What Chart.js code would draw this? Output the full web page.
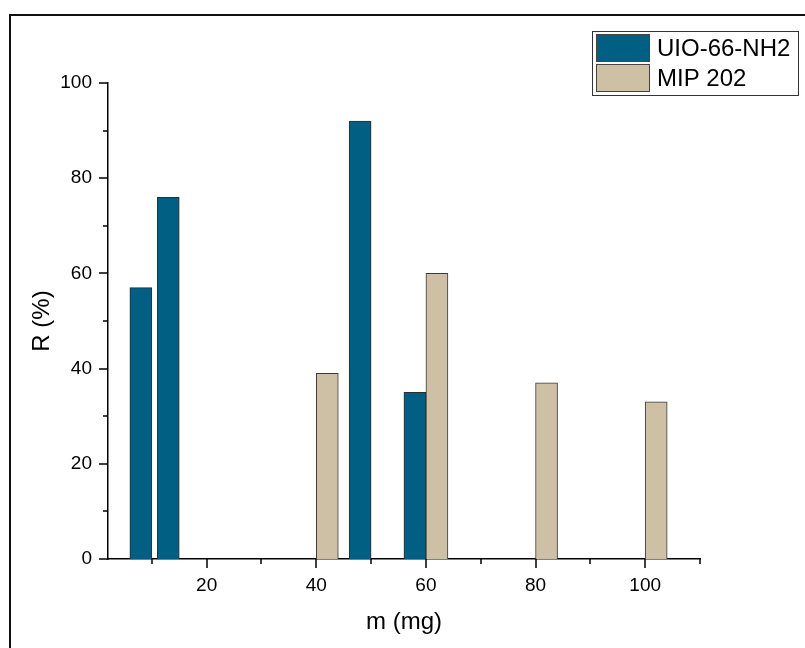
<!DOCTYPE html>
<html>
<head>
<meta charset="utf-8">
<title>R vs m</title>
<script src="https://cdn.jsdelivr.net/npm/chart.js@4.4.0/dist/chart.umd.min.js"></script>
<style>
  html, body { margin: 0; padding: 0; background: #fff; }
</style>
</head>
<body>
<canvas id="barChart" width="805" height="648"></canvas>
<script>
// sorbent mass (mg) and removal R (%) for each material
const massUio = [10, 15, 50, 60];
const recoveryUio = [57, 76, 92, 35];
const massMip = [40, 60, 80, 100];
const recoveryMip = [39, 60, 37, 33];

const xMajorTicks = [20, 40, 60, 80, 100];
const xMinorTicks = [10, 30, 50, 70, 90, 110];
const yMajorTicks = [0, 20, 40, 60, 80, 100];
const yMinorTicks = [10, 30, 50, 70, 90];

const FONT = "'Liberation Sans', Arial, sans-serif";

// page frame, minor/major tick marks, axis titles and the boxed legend
const decorations = {
  id: "decorations",
  beforeDraw(chart) {
    const ctx = chart.ctx;
    ctx.save();
    ctx.fillStyle = "#fff";
    ctx.fillRect(0, 0, chart.width, chart.height);
    ctx.strokeStyle = "#111";
    ctx.lineWidth = 2;
    ctx.beginPath();
    ctx.moveTo(10, chart.height);
    ctx.lineTo(10, 15);
    ctx.lineTo(chart.width, 15);
    ctx.stroke();
    ctx.restore();
  },
  afterDraw(chart) {
    const { ctx } = chart;
    const x = chart.scales.x;
    const y = chart.scales.y;
    ctx.save();
    ctx.strokeStyle = "#000";
    ctx.lineWidth = 1.5;
    const line = (x1, y1, x2, y2) => {
      ctx.beginPath();
      ctx.moveTo(x1, y1);
      ctx.lineTo(x2, y2);
      ctx.stroke();
    };
    xMajorTicks.forEach((v) => {
      const px = Math.round(x.getPixelForValue(v));
      line(px, y.bottom, px, y.bottom + 9);
    });
    xMinorTicks.forEach((v) => {
      const px = Math.round(x.getPixelForValue(v));
      line(px, y.bottom, px, y.bottom + 5);
    });
    yMajorTicks.forEach((v) => {
      const py = Math.round(y.getPixelForValue(v));
      line(x.left - 9, py, x.left, py);
    });
    yMinorTicks.forEach((v) => {
      const py = Math.round(y.getPixelForValue(v));
      line(x.left - 5, py, x.left, py);
    });

    // axis titles
    ctx.fillStyle = "#000";
    ctx.font = "24px " + FONT;
    ctx.textAlign = "center";
    ctx.textBaseline = "middle";
    ctx.fillText("m (mg)", (x.left + x.right) / 2, 622);
    ctx.save();
    ctx.translate(42, (y.top + y.bottom) / 2);
    ctx.rotate(-Math.PI / 2);
    ctx.fillText("R (%)", 0, 0);
    ctx.restore();

    // legend
    ctx.lineWidth = 1;
    ctx.strokeStyle = "#333";
    ctx.strokeRect(592.5, 31.5, 206, 64);
    ctx.textAlign = "left";
    chart.data.datasets.forEach((ds, i) => {
      const top = 34 + i * 30;
      ctx.fillStyle = ds.backgroundColor;
      ctx.fillRect(596, top, 54, 28);
      ctx.strokeStyle = "#444";
      ctx.strokeRect(596.5, top + 0.5, 53, 27);
      ctx.fillStyle = "#000";
      ctx.fillText(ds.label, 657, top + 15);
    });
    ctx.restore();
  },
};

const barCtx = document.getElementById("barChart").getContext("2d");
new Chart(barCtx, {
  type: "bar",
  data: {
    datasets: [
      {
        label: "UIO-66-NH2",
        data: massUio.map((m, i) => ({ x: m, y: recoveryUio[i] })),
        backgroundColor: "#005f82",
        borderColor: "#2e2e2e",
        borderWidth: 1,
        barThickness: 22,
      },
      {
        label: "MIP 202",
        data: massMip.map((m, i) => ({ x: m, y: recoveryMip[i] })),
        backgroundColor: "#cdc0a5",
        borderColor: "#3a3a3a",
        borderWidth: 1,
        barThickness: 22,
      },
    ],
  },
  options: {
    responsive: false,
    animation: false,
    layout: {
      padding: { left: 0, top: 83, right: 105, bottom: 0 },
    },
    plugins: {
      legend: { display: false },
      tooltip: { enabled: false },
    },
    scales: {
      x: {
        type: "linear",
        min: 2,
        max: 110,
        offset: false,
        grid: { display: false, drawTicks: false, offset: false },
        border: { display: true, color: "#000", width: 1.5 },
        afterBuildTicks: (scale) => {
          scale.ticks = xMajorTicks.map((v) => ({ value: v }));
        },
        afterFit: (scale) => {
          scale.height = 89;
        },
        ticks: {
          padding: 15,
          color: "#000",
          font: { family: FONT, size: 19 },
          maxRotation: 0,
        },
      },
      y: {
        min: 0,
        max: 100,
        grid: { display: false, drawTicks: false },
        border: { display: true, color: "#000", width: 1.5 },
        afterBuildTicks: (scale) => {
          scale.ticks = yMajorTicks.map((v) => ({ value: v }));
        },
        afterFit: (scale) => {
          scale.width = 108;
        },
        ticks: {
          padding: 16,
          color: "#000",
          font: { family: FONT, size: 19 },
        },
      },
    },
  },
  plugins: [decorations],
});
</script>
</body>
</html>
